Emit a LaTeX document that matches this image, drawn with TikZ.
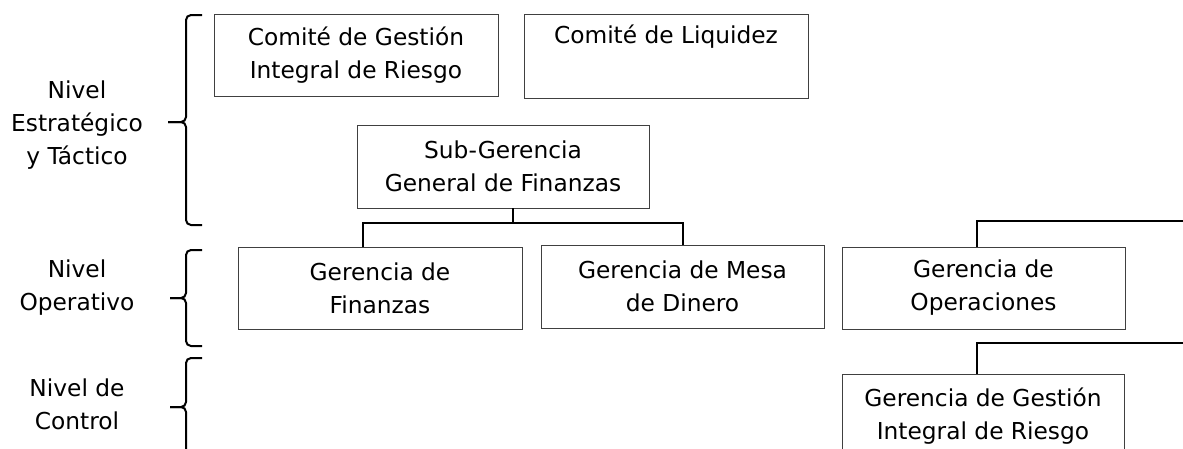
\documentclass[tikz,border=0pt]{standalone}
\usepackage{fontspec}
\setmainfont{DejaVu Sans}
\begin{document}
\begin{tikzpicture}[x=1pt,y=-1pt,
  every node/.style={font=\fontsize{23.3}{33}\selectfont, text=black},
  box/.style={draw=black!75, line width=0.9pt, rectangle, align=center, inner sep=0pt},
  lbl/.style={align=center, inner sep=0pt},
  conn/.style={draw=black, line width=2pt},
  brace/.style={draw=black, line width=2pt, rounded corners=5pt}]
\useasboundingbox (0,0) rectangle (1183,448);
\clip (0,0) rectangle (1183,448);
% boxes
\node[box, minimum width=284pt, minimum height=82pt] (b1) at (356,55) {Comité de Gestión\\Integral de Riesgo};
\node[box, minimum width=284pt, minimum height=84pt] (b2) at (666,56) {Comité de Liquidez\\\strut};
\node[box, minimum width=292pt, minimum height=83pt] (sub) at (503,166.5) {Sub-Gerencia\\General de Finanzas};
\node[box, minimum width=284pt, minimum height=82pt] (fin) at (380,288) {Gerencia de\\Finanzas};
\node[box, minimum width=283pt, minimum height=83pt] (mesa) at (682.5,286.5) {Gerencia de Mesa\\de Dinero};
\node[box, minimum width=283pt, minimum height=82pt] (ops) at (983.5,288) {Gerencia de\\Operaciones};
\node[box, minimum width=282pt, minimum height=84pt] (ggir) at (983,416) {Gerencia de Gestión\\Integral de Riesgo};
% level labels
\node[lbl] (l1) at (77,125) {Nivel\\Estratégico\\y Táctico};
\node[lbl] (l2) at (77,288) {Nivel\\Operativo};
\node[lbl] (l3) at (77,404) {Nivel de\\Control};
% connectors
\coordinate (bus) at (0,223);
\coordinate (e1) at (1183,221);
\coordinate (e2) at (1183,343);
\draw[conn] ([xshift=10pt]sub.south) -- ([xshift=10pt]sub.south |- bus);
\draw[conn] ([xshift=-17pt]fin.north) |- (bus -| mesa.north) -- (mesa.north);
\draw[conn] ([xshift=-7pt]ops.north) |- (e1);
\draw[conn] ([xshift=-6pt]ggir.north) |- (e2);
% braces
\draw[brace] (202,15) -- (186,15) -- (186,122) -- (168,122);
\draw[brace] (168,122) -- (186,122) -- (186,225) -- (202,225);
\draw[brace] (202,250) -- (186,250) -- (186,298) -- (170,298);
\draw[brace] (170,298) -- (186,298) -- (186,346) -- (202,346);
\draw[brace] (202,358) -- (186,358) -- (186,407) -- (170,407);
\draw[brace] (170,407) -- (186,407) -- (186,470);
\end{tikzpicture}
\end{document}
